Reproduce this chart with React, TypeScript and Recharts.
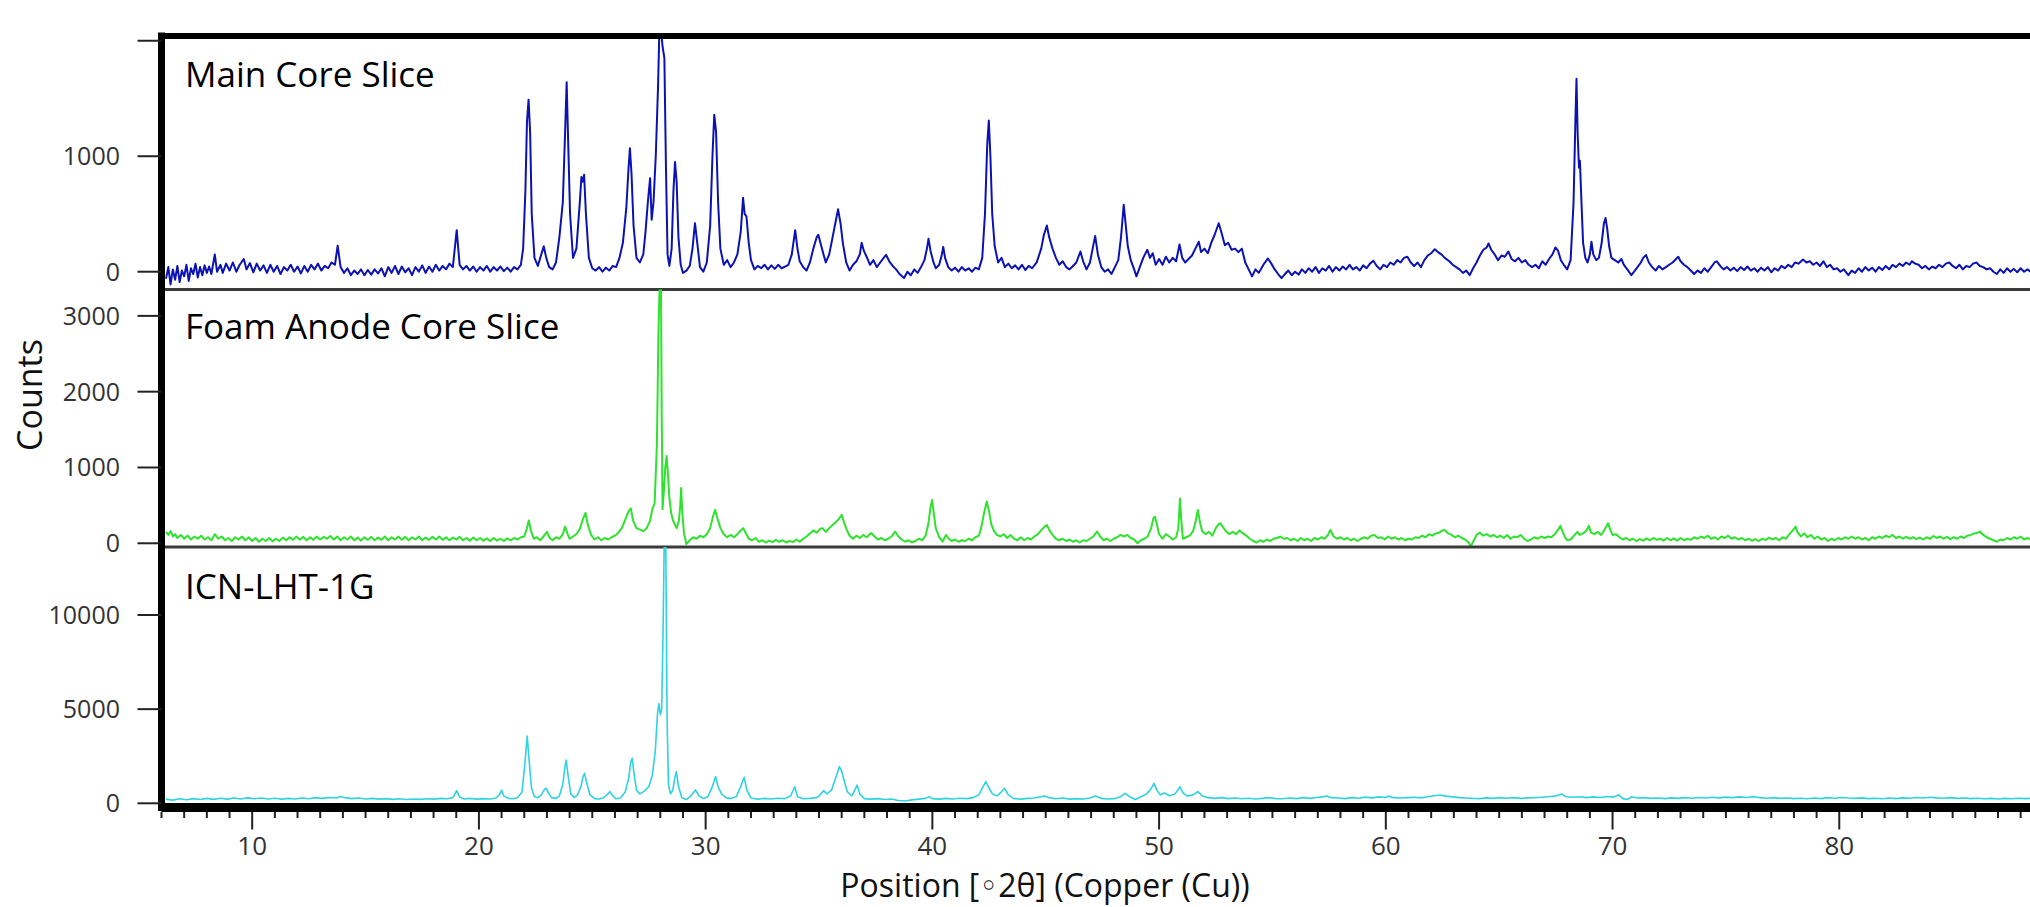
import React from "react";
import { LineChart, Line, XAxis, YAxis, ReferenceLine } from "recharts";

// 2θ ticks: majors get a label, every degree gets a small tick
const xMajorTicks = [10, 20, 30, 40, 50, 60, 70, 80];
const xTicks = Array.from({ length: 84 }, (_, i) => i + 6);

const mainCoreTicks = [0, 1000, 2000];
const foamAnodeTicks = [0, 1000, 2000, 3000];
const icnTicks = [0, 5000, 10000];

const panelNames = ["Main Core Slice", "Foam Anode Core Slice", "ICN-LHT-1G"];

// [2θ, counts]
const mainCoreSlice: [number, number][] = [
  [6.2,-60],[6.3,40],[6.4,-110],[6.5,20],[6.6,-70],[6.7,50],[6.8,-90],[6.9,10],[7.0,-40],[7.1,60],[7.2,-80],[7.3,30],[7.4,-20],[7.5,70],[7.6,-50],[7.7,40],[7.8,-30],[7.9,55],[8.0,-10],[8.1,45],[8.2,-20],[8.35,150],[8.45,0],[8.6,60],[8.7,-10],[8.85,70],[9.0,10],[9.15,80],[9.3,0],[9.45,60],[9.63,110],[9.75,20],[9.9,75],[10.05,-5],[10.2,70],[10.35,10],[10.5,55],[10.65,-10],[10.8,60],[10.95,0],[11.1,50],[11.25,-20],[11.4,40],[11.55,10],[11.7,60],[11.85,0],[12.0,45],[12.15,-15],[12.3,50],[12.45,0],[12.6,60],[12.75,20],[12.9,70],[13.05,10],[13.2,50],[13.35,30],[13.5,80],[13.65,60],[13.77,225],[13.9,40],[14.05,-10],[14.2,30],[14.35,-30],[14.5,10],[14.65,-20],[14.8,20],[14.95,-30],[15.1,15],[15.25,-25],[15.4,20],[15.55,-15],[15.7,30],[15.85,-40],[16.0,40],[16.15,-10],[16.3,50],[16.45,-20],[16.6,45],[16.75,-5],[16.9,30],[17.05,-30],[17.2,40],[17.35,0],[17.5,55],[17.65,-10],[17.8,45],[17.95,0],[18.1,60],[18.25,10],[18.4,50],[18.55,20],[18.7,70],[18.85,40],[19.02,360],[19.15,60],[19.3,20],[19.45,50],[19.6,10],[19.75,45],[19.9,0],[20.05,40],[20.2,10],[20.35,50],[20.5,0],[20.65,40],[20.8,10],[20.95,45],[21.1,5],[21.25,35],[21.4,0],[21.55,40],[21.7,20],[21.85,60],
  [21.95,200],[22.05,700],[22.12,1300],[22.19,1490],[22.26,1200],[22.33,500],[22.45,120],[22.6,50],[22.75,150],[22.86,220],[22.97,120],[23.1,40],[23.25,20],[23.4,80],[23.55,300],[23.7,600],[23.8,1200],[23.87,1640],[23.94,1100],[24.02,500],[24.15,120],[24.3,200],[24.45,600],[24.52,820],[24.58,780],[24.64,840],[24.72,500],[24.85,120],[25.0,30],[25.15,10],[25.3,40],[25.45,0],[25.6,35],[25.75,10],[25.9,50],[26.05,40],[26.2,120],[26.35,250],[26.5,550],[26.6,900],[26.66,1070],[26.73,850],[26.82,400],[26.95,120],[27.1,80],[27.25,150],[27.35,350],[27.45,600],[27.55,810],[27.62,450],[27.7,600],[27.8,1000],[27.9,1600],[27.96,2100],[28.03,2100],[28.1,1950],[28.18,1850],[28.25,900],[28.32,150],[28.4,50],[28.5,200],[28.58,700],[28.65,950],[28.72,780],[28.8,300],[28.9,60],[29.0,-10],[29.15,10],[29.3,50],[29.42,200],[29.53,420],[29.63,250],[29.75,40],[29.9,0],[30.05,80],[30.2,400],[30.3,1000],[30.38,1360],[30.46,1210],[30.55,600],[30.65,200],[30.8,60],[30.95,100],[31.1,40],[31.25,80],[31.4,150],[31.55,350],[31.65,640],[31.72,500],[31.8,480],[31.9,250],[32.0,100],[32.15,20],[32.3,50],[32.45,30],[32.6,60],[32.75,20],[32.9,55],[33.05,25],[33.2,60],[33.35,30],[33.5,45],[33.65,60],[33.8,150],[33.95,360],[34.05,200],[34.15,90],[34.3,40],[34.45,10],[34.6,80],[34.75,200],[34.9,300],[34.97,320],[35.05,260],[35.2,150],[35.3,80],[35.45,150],[35.6,300],[35.75,450],[35.84,540],[35.95,420],[36.05,250],[36.2,80],[36.35,10],[36.5,60],[36.65,90],[36.8,150],[36.88,250],[36.98,180],[37.1,130],[37.25,60],[37.4,100],[37.55,40],[37.7,80],[37.85,120],[37.96,145],[38.1,90],[38.25,50],[38.4,20],[38.55,-20],[38.75,-55],[38.9,0],[39.05,-30],[39.2,20],[39.35,-10],[39.5,40],[39.65,100],[39.76,200],[39.83,285],[39.92,180],[40.05,80],[40.15,30],[40.3,60],[40.42,150],[40.48,215],[40.56,120],[40.7,40],[40.85,10],[41.0,35],[41.15,0],[41.3,40],[41.45,10],[41.6,30],[41.75,0],[41.9,35],[42.05,20],[42.2,120],[42.32,500],[42.42,1100],[42.49,1310],[42.56,1000],[42.64,500],[42.75,220],[42.9,80],[43.05,120],[43.2,40],[43.35,70],[43.5,30],[43.65,55],[43.8,20],[43.95,60],[44.1,15],[44.25,50],[44.4,30],[44.6,80],[44.8,200],[44.92,320],[45.05,400],[45.15,300],[45.3,200],[45.45,120],[45.6,60],[45.75,90],[45.9,40],[46.05,20],[46.2,50],[46.35,80],[46.53,175],[46.65,90],[46.8,20],[46.95,80],[47.07,200],[47.18,310],[47.3,150],[47.45,40],[47.6,0],[47.75,20],[47.9,-20],[48.05,40],[48.2,100],[48.32,300],[48.44,580],[48.52,420],[48.62,220],[48.75,100],[48.9,20],[49.0,-40],[49.15,40],[49.3,120],[49.48,190],[49.6,120],[49.72,160],[49.85,60],[50.0,110],[50.15,60],[50.3,130],[50.45,80],[50.6,120],[50.75,90],[50.9,235],[51.02,120],[51.15,80],[51.3,110],[51.45,140],[51.6,200],[51.75,260],[51.85,170],[52.0,200],[52.15,160],[52.3,250],[52.45,320],[52.63,420],[52.75,340],[52.9,230],[53.05,250],[53.2,190],[53.35,200],[53.5,170],[53.65,200],[53.8,80],[53.95,20],[54.1,-40],[54.25,20],[54.4,-10],[54.6,60],[54.8,115],[54.95,70],[55.1,20],[55.25,-20],[55.4,-55],[55.55,-20],[55.7,10],[55.85,-30],[56.0,0],[56.15,-25],[56.3,20],[56.45,-10],[56.6,30],[56.75,0],[56.9,40],[57.05,-10],[57.2,30],[57.35,10],[57.5,50],[57.65,0],[57.8,40],[57.95,10],[58.1,45],[58.25,20],[58.4,60],[58.55,20],[58.7,40],[58.85,10],[59.0,55],[59.15,30],[59.3,70],[59.45,95],[59.6,50],[59.75,20],[59.9,60],[60.05,40],[60.2,80],[60.35,60],[60.5,100],[60.65,80],[60.8,120],[60.95,130],[61.1,80],[61.25,50],[61.4,80],[61.55,40],[61.7,100],[61.85,140],[62.0,160],[62.16,195],[62.3,170],[62.45,150],[62.6,120],[62.8,90],[62.95,60],[63.1,40],[63.25,20],[63.4,-10],[63.55,10],[63.7,-30],[63.85,30],[64.0,80],[64.15,140],[64.3,190],[64.45,210],[64.53,245],[64.65,190],[64.8,150],[64.95,100],[65.1,140],[65.25,130],[65.4,175],[65.55,110],[65.7,90],[65.85,120],[66.0,80],[66.15,100],[66.3,60],[66.45,40],[66.6,60],[66.75,30],[66.9,90],[67.05,60],[67.2,110],[67.35,150],[67.48,210],[67.6,180],[67.72,100],[67.85,60],[68.0,20],[68.15,100],[68.28,600],[68.36,1300],[68.41,1670],[68.46,1200],[68.52,900],[68.56,960],[68.62,650],[68.7,250],[68.8,120],[68.9,80],[69.0,150],[69.07,260],[69.15,150],[69.28,100],[69.4,120],[69.52,250],[69.62,420],[69.69,465],[69.76,380],[69.85,220],[69.95,120],[70.1,100],[70.25,80],[70.39,110],[70.5,60],[70.65,20],[70.83,-30],[70.95,0],[71.1,40],[71.25,80],[71.35,120],[71.48,145],[71.6,80],[71.75,40],[71.9,10],[72.05,50],[72.2,20],[72.35,40],[72.5,60],[72.65,80],[72.8,110],[72.9,130],[73.0,90],[73.15,60],[73.3,40],[73.45,10],[73.6,-20],[73.75,10],[73.9,-10],[74.05,30],[74.2,0],[74.35,40],[74.5,80],[74.6,90],[74.75,50],[74.9,20],[75.05,40],[75.2,10],[75.35,35],[75.5,5],[75.65,40],[75.8,15],[75.95,45],[76.1,10],[76.25,30],[76.4,0],[76.55,35],[76.7,10],[76.85,40],[77.0,-5],[77.15,30],[77.3,10],[77.45,50],[77.6,30],[77.75,60],[77.9,40],[78.05,80],[78.2,70],[78.4,105],[78.55,80],[78.7,90],[78.85,60],[79.0,80],[79.15,50],[79.3,90],[79.45,40],[79.6,60],[79.75,20],[79.9,30],[80.05,0],[80.2,20],[80.4,-30],[80.55,10],[80.7,-10],[80.85,30],[81.0,0],[81.15,40],[81.3,10],[81.45,35],[81.6,0],[81.75,40],[81.9,15],[82.05,50],[82.2,20],[82.35,60],[82.5,40],[82.65,70],[82.8,50],[82.95,80],[83.1,60],[83.2,90],[83.35,70],[83.5,60],[83.65,30],[83.8,50],[83.95,20],[84.1,45],[84.25,30],[84.4,60],[84.55,40],[84.7,70],[84.85,80],[85.0,50],[85.15,30],[85.3,60],[85.45,20],[85.6,50],[85.75,40],[85.9,70],[86.05,80],[86.2,50],[86.35,40],[86.5,20],[86.65,30],[86.8,0],[86.95,-20],[87.1,20],[87.25,-10],[87.4,30],[87.55,0],[87.7,25],[87.85,-5],[88.0,30],[88.15,0],[88.3,20],[88.5,-10],[88.7,25],[89.0,0],
];

const foamAnodeCoreSlice: [number, number][] = [
  [6.2,150],[6.3,110],[6.4,160],[6.5,90],[6.6,120],[6.7,70],[6.85,110],[7.0,60],[7.15,100],[7.3,50],[7.45,90],[7.6,60],[7.75,100],[7.9,50],[8.05,80],[8.2,40],[8.35,120],[8.5,60],[8.65,90],[8.8,40],[8.95,70],[9.1,30],[9.25,80],[9.4,50],[9.55,90],[9.7,40],[9.85,80],[10.0,30],[10.15,70],[10.3,20],[10.45,60],[10.6,30],[10.75,70],[10.9,25],[11.05,60],[11.2,30],[11.35,75],[11.5,40],[11.65,80],[11.8,45],[11.95,90],[12.1,50],[12.25,85],[12.4,40],[12.55,80],[12.7,45],[12.85,90],[13.0,50],[13.15,85],[13.3,60],[13.45,95],[13.6,50],[13.75,90],[13.9,40],[14.05,80],[14.2,50],[14.35,90],[14.5,40],[14.65,75],[14.8,35],[14.95,80],[15.1,45],[15.25,85],[15.4,40],[15.55,75],[15.7,45],[15.85,90],[16.0,40],[16.15,80],[16.3,50],[16.45,90],[16.6,45],[16.75,85],[16.9,40],[17.05,80],[17.2,50],[17.35,90],[17.5,40],[17.65,75],[17.8,45],[17.95,85],[18.1,50],[18.25,90],[18.4,45],[18.55,80],[18.7,40],[18.85,75],[19.0,50],[19.15,85],[19.3,40],[19.45,70],[19.6,35],[19.75,75],[19.9,40],[20.05,70],[20.2,35],[20.35,65],[20.5,30],[20.65,70],[20.8,35],[20.95,60],[21.1,30],[21.25,65],[21.4,40],[21.55,70],[21.7,50],[21.85,80],
  [22.0,90],[22.1,180],[22.2,300],[22.3,160],[22.42,60],[22.55,80],[22.7,40],[22.85,90],[23.0,150],[23.12,70],[23.25,40],[23.4,80],[23.55,60],[23.7,120],[23.8,220],[23.9,130],[24.0,60],[24.15,90],[24.3,120],[24.45,190],[24.6,330],[24.7,400],[24.8,250],[24.95,110],[25.1,50],[25.25,80],[25.4,40],[25.55,70],[25.7,50],[25.85,80],[26.0,100],[26.15,140],[26.3,200],[26.45,310],[26.6,420],[26.7,460],[26.8,300],[26.95,200],[27.1,180],[27.25,160],[27.4,200],[27.55,300],[27.65,450],[27.75,530],[27.85,1300],[27.92,2800],[27.98,3500],[28.03,3500],[28.06,1760],[28.1,450],[28.16,700],[28.22,1000],[28.28,1150],[28.34,900],[28.4,600],[28.48,400],[28.56,300],[28.64,250],[28.72,200],[28.82,300],[28.88,500],[28.92,730],[28.97,400],[29.05,120],[29.15,-10],[29.3,40],[29.45,80],[29.6,60],[29.75,100],[29.9,80],[30.05,120],[30.2,200],[30.32,350],[30.42,440],[30.52,330],[30.65,200],[30.8,120],[30.95,80],[31.1,110],[31.25,80],[31.4,120],[31.55,170],[31.66,200],[31.78,130],[31.9,60],[32.05,40],[32.2,70],[32.35,20],[32.5,40],[32.65,10],[32.8,35],[32.95,15],[33.1,45],[33.25,20],[33.4,40],[33.55,10],[33.7,30],[33.85,15],[34.0,50],[34.15,20],[34.3,60],[34.45,90],[34.6,130],[34.75,170],[34.9,140],[35.05,190],[35.15,200],[35.3,150],[35.45,200],[35.6,240],[35.75,280],[35.9,330],[36.0,375],[36.1,280],[36.22,180],[36.35,100],[36.5,60],[36.65,100],[36.8,70],[36.95,110],[37.1,80],[37.3,135],[37.45,90],[37.6,50],[37.75,70],[37.9,40],[38.05,60],[38.2,90],[38.36,155],[38.5,90],[38.65,50],[38.8,20],[38.95,40],[39.1,10],[39.25,30],[39.4,60],[39.55,40],[39.7,100],[39.82,250],[39.92,480],[39.99,570],[40.06,400],[40.15,200],[40.3,80],[40.45,20],[40.6,110],[40.72,60],[40.85,30],[41.0,50],[41.15,20],[41.3,40],[41.45,30],[41.6,60],[41.75,40],[41.9,80],[42.05,100],[42.15,200],[42.28,400],[42.4,550],[42.5,420],[42.6,250],[42.72,160],[42.85,110],[43.0,90],[43.15,120],[43.3,70],[43.45,110],[43.6,60],[43.75,40],[43.9,80],[44.05,40],[44.2,70],[44.35,50],[44.5,90],[44.65,120],[44.8,170],[44.95,220],[45.05,240],[45.15,180],[45.3,110],[45.45,60],[45.6,40],[45.75,60],[45.9,30],[46.05,50],[46.2,20],[46.35,40],[46.5,10],[46.65,40],[46.8,30],[46.95,60],[47.1,90],[47.26,155],[47.4,90],[47.55,40],[47.7,60],[47.85,30],[48.0,60],[48.15,80],[48.3,110],[48.45,90],[48.6,110],[48.75,70],[48.9,50],[49.05,0],[49.2,40],[49.35,60],[49.5,90],[49.65,200],[49.75,330],[49.82,350],[49.9,250],[50.0,120],[50.15,60],[50.3,120],[50.45,90],[50.6,50],[50.75,80],[50.85,200],[50.92,590],[50.98,300],[51.05,60],[51.2,80],[51.35,100],[51.5,160],[51.62,300],[51.71,440],[51.8,280],[51.9,160],[52.05,120],[52.2,150],[52.35,100],[52.5,200],[52.62,250],[52.7,265],[52.8,220],[52.95,160],[53.1,120],[53.25,150],[53.4,120],[53.55,170],[53.7,130],[53.85,100],[54.0,60],[54.15,30],[54.3,10],[54.45,40],[54.6,20],[54.75,50],[54.9,30],[55.05,60],[55.2,70],[55.35,90],[55.5,60],[55.65,70],[55.8,40],[55.95,60],[56.1,30],[56.25,70],[56.4,40],[56.55,60],[56.7,30],[56.85,70],[57.0,50],[57.15,80],[57.3,60],[57.45,110],[57.55,175],[57.7,90],[57.85,60],[58.0,80],[58.15,50],[58.3,70],[58.45,40],[58.6,60],[58.75,30],[58.9,60],[59.05,80],[59.2,60],[59.35,100],[59.5,110],[59.65,70],[59.8,80],[59.95,50],[60.1,90],[60.25,60],[60.4,80],[60.55,50],[60.7,70],[60.85,40],[61.0,60],[61.15,50],[61.3,80],[61.45,70],[61.6,100],[61.75,80],[61.9,120],[62.05,100],[62.2,130],[62.35,140],[62.5,170],[62.6,175],[62.75,130],[62.9,110],[63.05,80],[63.2,100],[63.35,70],[63.5,50],[63.65,10],[63.75,-40],[63.85,20],[64.0,110],[64.15,140],[64.3,100],[64.45,120],[64.6,90],[64.75,110],[64.9,80],[65.05,100],[65.2,70],[65.35,110],[65.5,60],[65.65,90],[65.8,80],[65.95,110],[66.1,60],[66.25,30],[66.4,50],[66.55,80],[66.7,60],[66.85,90],[67.0,70],[67.15,90],[67.3,80],[67.45,120],[67.6,180],[67.7,230],[67.8,150],[67.9,80],[68.0,40],[68.15,50],[68.3,100],[68.45,150],[68.55,110],[68.7,130],[68.85,170],[68.96,230],[69.05,140],[69.2,120],[69.35,150],[69.5,110],[69.65,180],[69.8,265],[69.9,180],[70.0,110],[70.15,120],[70.3,80],[70.45,50],[70.6,70],[70.75,40],[70.9,60],[71.05,30],[71.2,55],[71.35,35],[71.5,65],[71.65,40],[71.8,70],[71.95,45],[72.1,60],[72.25,35],[72.4,70],[72.55,40],[72.7,65],[72.85,35],[73.0,70],[73.15,40],[73.3,60],[73.45,45],[73.6,80],[73.75,60],[73.9,90],[74.05,70],[74.2,100],[74.35,60],[74.5,80],[74.65,50],[74.8,90],[74.95,70],[75.1,100],[75.25,60],[75.4,80],[75.55,50],[75.7,70],[75.85,40],[76.0,60],[76.15,35],[76.3,55],[76.45,30],[76.6,60],[76.75,45],[76.9,75],[77.05,50],[77.2,70],[77.35,40],[77.5,80],[77.65,60],[77.8,120],[77.95,170],[78.07,220],[78.15,150],[78.3,90],[78.45,130],[78.6,80],[78.75,110],[78.9,60],[79.05,90],[79.2,50],[79.35,70],[79.5,30],[79.65,60],[79.8,40],[79.95,70],[80.1,50],[80.25,80],[80.4,60],[80.55,90],[80.7,60],[80.85,80],[81.0,50],[81.15,70],[81.3,40],[81.45,80],[81.6,60],[81.75,90],[81.9,70],[82.05,100],[82.2,80],[82.35,110],[82.5,70],[82.65,90],[82.8,60],[82.95,85],[83.1,60],[83.25,80],[83.4,55],[83.55,75],[83.7,50],[83.85,80],[84.0,60],[84.15,95],[84.3,70],[84.45,90],[84.6,60],[84.75,85],[84.9,55],[85.05,80],[85.2,60],[85.35,90],[85.5,70],[85.65,100],[85.8,110],[85.95,130],[86.1,140],[86.2,155],[86.35,110],[86.5,80],[86.65,60],[86.8,40],[86.95,20],[87.1,50],[87.25,40],[87.4,70],[87.55,50],[87.7,80],[87.85,60],[88.0,90],[88.15,50],[88.3,70],[88.5,40],[88.7,60],[89.0,50],
];

const icnLht1g: [number, number][] = [
  [6.2,220],[6.5,170],[6.8,240],[7.1,190],[7.4,250],[7.7,200],[8.0,260],[8.3,210],[8.6,270],[8.9,220],[9.2,280],[9.5,230],[9.8,290],[10.1,240],[10.4,280],[10.7,230],[11.0,270],[11.3,220],[11.6,260],[11.9,230],[12.2,280],[12.5,240],[12.8,300],[13.1,260],[13.4,310],[13.7,280],[13.9,360],[14.1,300],[14.4,250],[14.7,280],[15.0,230],[15.3,260],[15.6,220],[15.9,250],[16.2,210],[16.5,240],[16.8,200],[17.1,230],[17.4,210],[17.7,240],[18.0,220],[18.3,260],[18.6,240],[18.85,300],[19.02,670],[19.15,330],[19.35,230],[19.6,260],[19.9,220],[20.2,250],[20.5,230],[20.75,280],[20.9,450],[21.0,700],[21.1,380],[21.3,260],[21.5,240],[21.7,300],[21.9,600],
  [22.02,2000],[22.13,3570],[22.22,2200],[22.32,800],[22.45,350],[22.6,300],[22.75,450],[22.9,750],[22.96,800],[23.05,600],[23.2,300],[23.4,260],[23.55,400],[23.7,1000],[23.79,1900],[23.85,2300],[23.93,1500],[24.05,500],[24.2,300],[24.35,450],[24.5,900],[24.6,1450],[24.66,1590],[24.75,1100],[24.9,450],[25.1,250],[25.3,230],[25.5,300],[25.65,450],[25.78,620],[25.9,400],[26.05,240],[26.25,280],[26.45,600],[26.6,1300],[26.7,2200],[26.76,2390],[26.85,1500],[26.95,700],[27.1,500],[27.3,650],[27.5,900],[27.65,1500],[27.78,2800],[27.88,4800],[27.94,5300],[28.0,4700],[28.06,5000],[28.12,9000],[28.18,14500],[28.24,14000],[28.3,4400],[28.36,1000],[28.45,500],[28.55,700],[28.65,1400],[28.71,1680],[28.8,900],[28.95,300],[29.15,200],[29.35,400],[29.55,710],[29.7,400],[29.9,250],[30.1,350],[30.3,900],[30.44,1420],[30.55,880],[30.7,500],[30.9,300],[31.1,250],[31.35,350],[31.55,900],[31.7,1380],[31.82,700],[32.0,280],[32.3,220],[32.6,260],[32.9,230],[33.2,270],[33.5,250],[33.75,400],[33.93,880],[34.05,350],[34.3,240],[34.6,260],[34.9,300],[35.05,450],[35.2,670],[35.35,500],[35.55,700],[35.75,1400],[35.9,1950],[36.0,1700],[36.1,1240],[36.25,600],[36.45,400],[36.6,750],[36.68,970],[36.8,500],[37.0,250],[37.3,220],[37.6,250],[37.9,200],[38.2,230],[38.5,150],[38.8,120],[39.1,180],[39.4,220],[39.7,260],[39.85,350],[40.0,250],[40.3,220],[40.6,260],[40.9,230],[41.2,270],[41.5,250],[41.8,300],[42.05,450],[42.2,800],[42.36,1150],[42.5,800],[42.65,500],[42.85,400],[43.0,550],[43.18,800],[43.35,450],[43.6,250],[43.9,220],[44.2,260],[44.5,280],[44.8,350],[44.95,390],[45.15,300],[45.45,240],[45.75,280],[46.05,220],[46.35,250],[46.65,230],[46.95,280],[47.2,390],[47.45,260],[47.75,230],[48.05,250],[48.3,350],[48.5,530],[48.7,350],[48.95,200],[49.2,350],[49.45,500],[49.6,700],[49.78,1060],[49.9,700],[50.05,450],[50.25,550],[50.45,400],[50.7,500],[50.85,750],[50.92,880],[51.05,550],[51.25,380],[51.5,450],[51.71,620],[51.9,400],[52.15,300],[52.45,260],[52.75,300],[53.05,250],[53.35,280],[53.65,240],[53.95,270],[54.25,230],[54.55,260],[54.85,300],[55.15,250],[55.45,240],[55.75,280],[56.05,250],[56.35,300],[56.65,260],[56.95,310],[57.2,340],[57.4,390],[57.6,300],[57.9,280],[58.2,250],[58.5,300],[58.8,270],[59.1,330],[59.4,290],[59.7,340],[60.0,310],[60.1,380],[60.35,300],[60.65,280],[60.95,300],[61.25,320],[61.55,290],[61.85,350],[62.15,400],[62.4,440],[62.65,380],[62.95,340],[63.25,300],[63.55,280],[63.85,260],[64.15,250],[64.45,290],[64.75,260],[65.05,300],[65.35,270],[65.65,300],[65.95,260],[66.25,290],[66.55,300],[66.85,320],[67.15,350],[67.45,380],[67.75,500],[67.95,350],[68.25,320],[68.55,350],[68.85,300],[69.15,340],[69.45,310],[69.75,360],[70.05,330],[70.28,450],[70.45,250],[70.65,200],[70.85,350],[71.1,280],[71.4,300],[71.7,260],[72.0,280],[72.3,250],[72.6,290],[72.9,260],[73.2,300],[73.5,270],[73.8,310],[74.1,280],[74.4,320],[74.7,290],[75.0,330],[75.3,300],[75.6,340],[75.9,310],[76.2,350],[76.5,300],[76.8,270],[77.1,300],[77.4,260],[77.7,280],[78.0,250],[78.3,270],[78.6,240],[78.9,280],[79.2,250],[79.5,300],[79.8,270],[80.1,310],[80.4,280],[80.7,260],[81.0,290],[81.3,250],[81.6,270],[81.9,240],[82.2,280],[82.5,250],[82.8,290],[83.1,270],[83.4,310],[83.7,280],[84.0,320],[84.3,290],[84.6,270],[84.9,300],[85.2,260],[85.5,280],[85.8,250],[86.1,270],[86.4,240],[86.7,260],[87.0,230],[87.3,260],[87.6,240],[87.9,270],[88.2,250],[88.5,270],[89.0,250],
];

const FONT = "'Open Sans', 'DejaVu Sans', sans-serif";
const X_DOMAIN: [number, number] = [6, 90];
const CHART_W = 2066;
const AXIS_W = 161.5;

const toPoints = (rows: [number, number][]) => rows.map(([x, y]) => ({ x, y }));

function XTick(props: any) {
  const { x, y, payload } = props;
  const major = xMajorTicks.includes(payload.value);
  return (
    <g>
      <line x1={x} x2={x} y1={y + 4.5} y2={y + (major ? 22 : 10.5)} stroke="#222" strokeWidth={2} />
      {major && (
        <text x={x} y={y + 47.5} textAnchor="middle" fontSize={26} fill="#333" fontFamily={FONT}>
          {payload.value}
        </text>
      )}
    </g>
  );
}

type PanelProps = {
  rows: [number, number][];
  color: string;
  width: number;
  domain: [number, number];
  ticks: number[];
  top: number;
  bottom: number;
  height: number;
  showX?: boolean;
  hideTopLabel?: boolean;
  topFrame?: boolean;
};

function Panel({ rows, color, width, domain, ticks, top, bottom, height, showX, hideTopLabel, topFrame }: PanelProps) {
  const topTick = ticks[ticks.length - 1];
  return (
    <div style={{ position: "absolute", left: 0, top: 0 }}>
      <LineChart width={CHART_W} height={height} margin={{ top, right: 0, bottom, left: 0 }}>
        {showX ? (
          <XAxis
            type="number"
            dataKey="x"
            domain={X_DOMAIN}
            allowDataOverflow
            ticks={xTicks}
            interval={0}
            height={99.5}
            tickSize={0}
            tickMargin={0}
            tickLine={false}
            axisLine={{ stroke: "#000", strokeWidth: 9 }}
            tick={(p: any) => <XTick {...p} />}
          />
        ) : (
          <XAxis type="number" dataKey="x" domain={X_DOMAIN} allowDataOverflow hide />
        )}
        <YAxis
          type="number"
          domain={domain}
          allowDataOverflow
          width={AXIS_W}
          ticks={ticks}
          interval={0}
          tickSize={24}
          tickMargin={17.5}
          tickFormatter={(v: number) => (hideTopLabel && v === topTick ? "" : String(v))}
          tick={{ fontSize: 25, fill: "#333", fontFamily: FONT }}
          tickLine={{ stroke: "#222", strokeWidth: 2 }}
          axisLine={{ stroke: "#000", strokeWidth: 7, strokeLinecap: "square" }}
        />
        <Line
          data={toPoints(rows)}
          dataKey="y"
          type="linear"
          stroke={color}
          strokeWidth={width}
          strokeLinejoin="round"
          dot={false}
          activeDot={false}
          isAnimationActive={false}
        />
        {!showX && <ReferenceLine y={domain[0]} stroke="#3a3a3a" strokeWidth={3} ifOverflow="visible" />}
        {topFrame && <ReferenceLine y={domain[1]} stroke="#000" strokeWidth={6} ifOverflow="visible" />}
      </LineChart>
    </div>
  );
}

export default function App() {
  return (
    <div style={{ position: "relative", width: 2030, height: 907, overflow: "hidden", background: "#fff" }}>
      <style>{"html,body{margin:0;padding:0;overflow:hidden;background:#fff}"}</style>
      <Panel rows={mainCoreSlice} color="#0c12b2" width={2} domain={[-154, 2041]} ticks={mainCoreTicks} top={36} bottom={10.5} height={300} hideTopLabel topFrame />
      <Panel rows={foamAnodeCoreSlice} color="#2ee22e" width={2} domain={[-49, 3348]} ticks={foamAnodeTicks} top={289.5} bottom={13} height={560} />
      <Panel rows={icnLht1g} color="#2fd3df" width={1.6} domain={[-223, 13611]} ticks={icnTicks} top={547} bottom={0} height={907} showX />
      <svg width={2030} height={907} style={{ position: "absolute", left: 0, top: 0, pointerEvents: "none" }}>
        <text x={185} y={87} fontSize={35} fontFamily={FONT} fill="#000">{panelNames[0]}</text>
        <text x={185} y={339} fontSize={35} fontFamily={FONT} fill="#000">{panelNames[1]}</text>
        <text x={185} y={599} fontSize={35} fontFamily={FONT} fill="#000">{panelNames[2]}</text>
        <text x={42} y={395} transform="rotate(-90 42 395)" textAnchor="middle" fontSize={34} fontFamily={FONT} fill="#111">Counts</text>
        <text x={1045} y={897} textAnchor="middle" fontSize={32} fontFamily={FONT} fill="#111">Position [◦2θ] (Copper (Cu))</text>
      </svg>
    </div>
  );
}
